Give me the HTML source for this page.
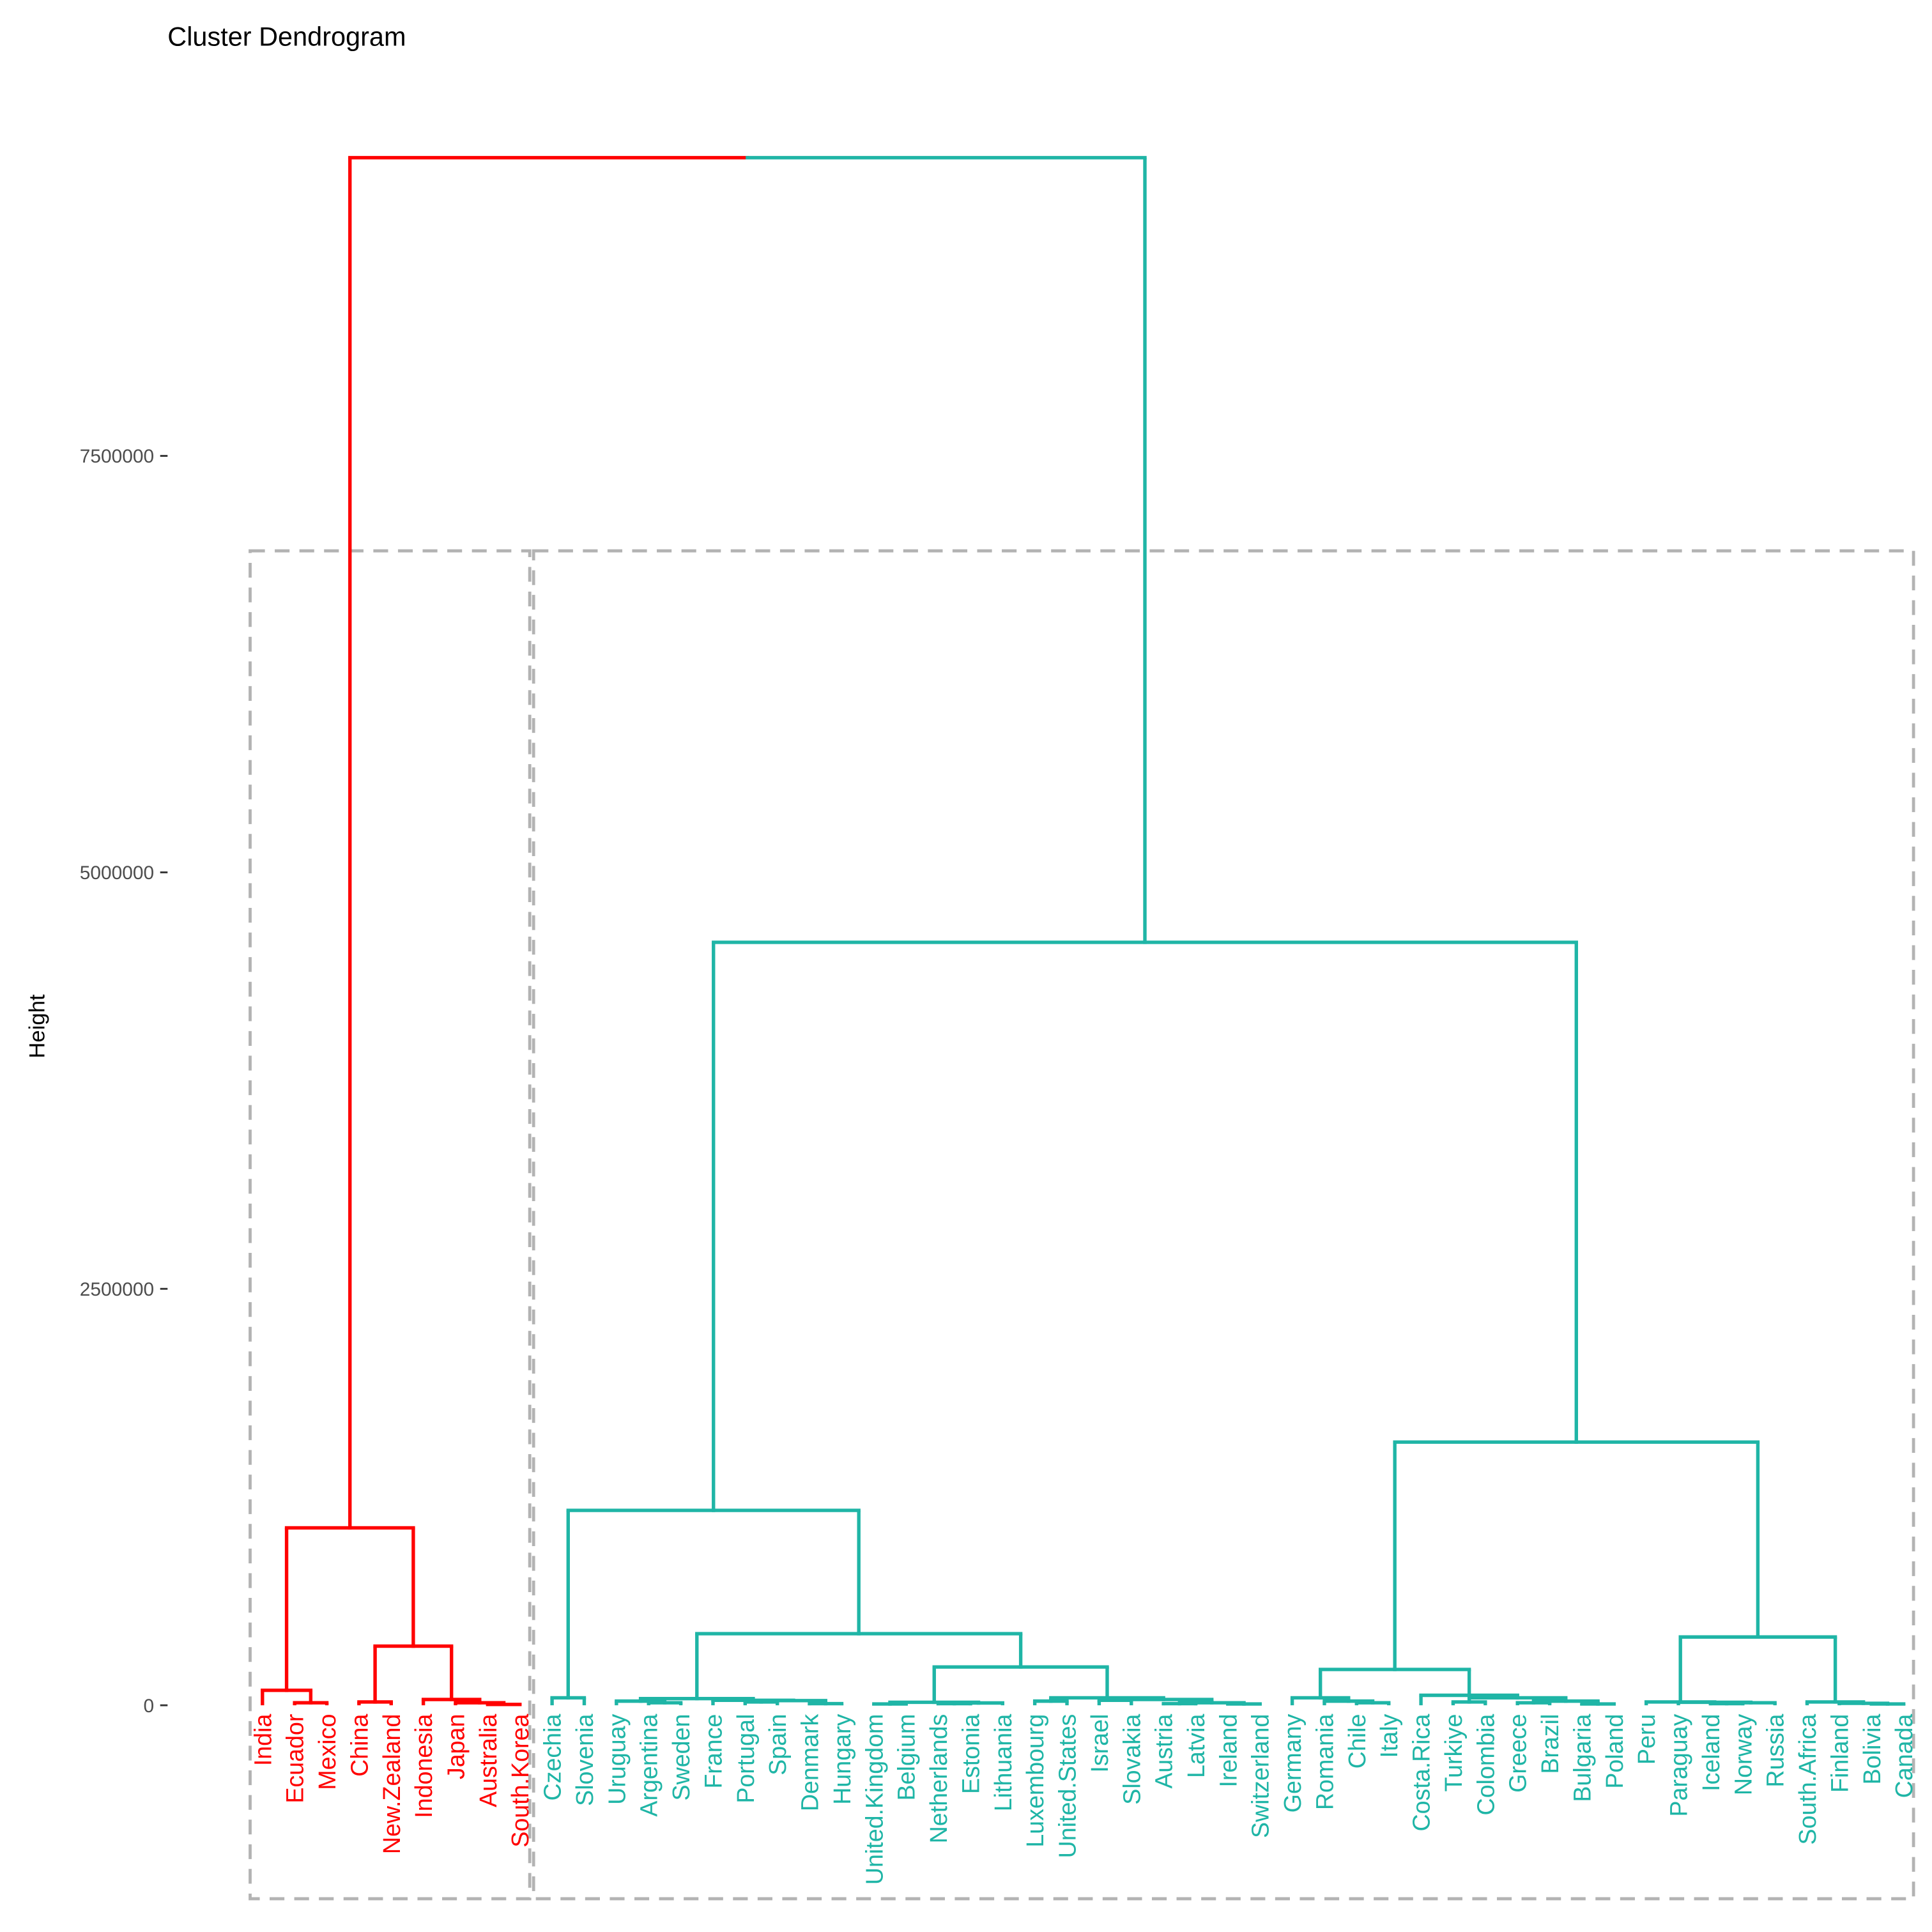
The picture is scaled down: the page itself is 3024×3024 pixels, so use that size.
<!DOCTYPE html>
<html><head><meta charset="utf-8"><style>html,body{margin:0;padding:0;background:#fff}svg{display:block}</style></head>
<body>
<svg id="chart" width="3024" height="3024" viewBox="0 0 1568 1568" xmlns="http://www.w3.org/2000/svg" font-family="Liberation Sans, sans-serif">
<rect width="1568" height="1568" fill="#fff"/>
<text x="136" y="37" font-size="21.5" fill="#000">Cluster Dendrogram</text>
<text transform="translate(36,833) rotate(-90)" text-anchor="middle" font-size="18" fill="#000">Height</text>
<g id="axis"></g>
<g id="boxes"></g>
<g id="tree"></g>
<g id="labels"></g>
</svg>
<script>
const leaves = ["India","Ecuador","Mexico","China","New.Zealand","Indonesia","Japan","Australia","South.Korea","Czechia","Slovenia","Uruguay","Argentina","Sweden","France","Portugal","Spain","Denmark","Hungary","United.Kingdom","Belgium","Netherlands","Estonia","Lithuania","Luxembourg","United.States","Israel","Slovakia","Austria","Latvia","Ireland","Switzerland","Germany","Romania","Chile","Italy","Costa.Rica","Turkiye","Colombia","Greece","Brazil","Bulgaria","Poland","Peru","Paraguay","Iceland","Norway","Russia","South.Africa","Finland","Bolivia","Canada"];
const clusterOf = [1,1,1,1,1,1,1,1,1,2,2,2,2,2,2,2,2,2,2,2,2,2,2,2,2,2,2,2,2,2,2,2,2,2,2,2,2,2,2,2,2,2,2,2,2,2,2,2,2,2,2,2];
const mergeLeft  = [-2,-1,-4,-8,-7,-6,3,2,-10,-13,-12,-16,-18,12,-15,11,-20,-22,18,17,-25,-27,-29,-31,23,22,21,20,16,9,-35,-34,-33,-38,-40,-42,35,34,-37,33,-46,41,-45,-44,-51,-50,-49,44,40,30,8];
const mergeRight = [-3,1,-5,-9,4,5,6,7,-11,-14,10,-17,-19,13,14,15,-21,-23,-24,19,-26,-28,-30,-32,24,25,26,27,28,29,-36,31,32,-39,-41,-43,36,37,38,39,-47,-48,42,43,-52,45,46,47,48,49,50];
const mergeHeight = [15000,90000,20000,5000,15000,35000,355000,1065000,45000,15000,25000,20000,10000,28000,30000,40000,8000,10000,14000,18000,25000,30000,10000,8000,15000,35000,45000,230000,430000,1170000,15000,25000,45000,20000,15000,8000,25000,45000,60000,215000,10000,15000,18000,20000,8000,12000,20000,410000,1580000,4580000,9290000];
const yTicks = [0,2500000,5000000,7500000];
const yTickLabels = ["0","2500000","5000000","7500000"];
const boxTop = 6930000;

const NS="http://www.w3.org/2000/svg";
const colors={1:"#FF0000",2:"#1FB5A6"};
const x0=213, dx=(1545-213)/51;
function xs(i){return x0+i*dx;}
function ys(v){return 1384-v/2500000*338;}
function mk(tag,attrs,parent){const e=document.createElementNS(NS,tag);for(const k in attrs)e.setAttribute(k,attrs[k]);parent.appendChild(e);return e;}

const axis=document.getElementById('axis');
yTicks.forEach((t,i)=>{
  const l=mk('line',{x1:130,x2:136,y1:ys(t),y2:ys(t),stroke:'#333','stroke-width':1.5},axis);
  
  
  const tx=mk('text',{x:125,y:ys(t)+5.5,'text-anchor':'end','font-size':15.5,fill:'#4d4d4d'},axis);
  tx.textContent=yTickLabels[i];
  
  
});

const nodeX=[],nodeH=[],nodeC=[];
function info(r){ if(r<0){const i=-r-1;return {x:xs(i),h:0,c:clusterOf[i]};} const k=r-1;return {x:nodeX[k],h:nodeH[k],c:nodeC[k]}; }
const tree=document.getElementById('tree');
for(let k=0;k<mergeHeight.length;k++){
  const a=info(mergeLeft[k]),b=info(mergeRight[k]);
  const h=mergeHeight[k];
  nodeX[k]=(a.x+b.x)/2; nodeH[k]=h; nodeC[k]=(a.c===b.c)?a.c:0;
  const y=ys(h);
  [a,b].forEach(ch=>{
    const col=colors[ch.c]||'#000';
    const v=mk('line',{x1:ch.x,x2:ch.x,y1:ys(ch.h),y2:y,stroke:col,'stroke-width':2.8},tree);
    
    
    const hz=mk('line',{x1:ch.x,x2:nodeX[k],y1:y,y2:y,stroke:col,'stroke-width':2.8,'stroke-linecap':'square'},tree);
    
    
  });
}

const boxes=document.getElementById('boxes');
[1,2].forEach(c=>{
  let mn=1e9,mx=-1;clusterOf.forEach((v,i)=>{if(v===c){mn=Math.min(mn,i);mx=Math.max(mx,i);}});
  const x1=xs(mn)-(c===2?15:10), x2=xs(mx)+(c===2?8:8);
  const r=mk('rect',{x:x1,y:ys(boxTop),width:x2-x1,height:1541-ys(boxTop),fill:'none',stroke:'#b3b3b3','stroke-width':2.5,'stroke-dasharray':'12,8'},boxes);
  
  
});

const labels=document.getElementById('labels');
leaves.forEach((n,i)=>{
  const x=xs(i)+7,y=1391;
  const t=mk('text',{transform:`translate(${x},${y}) rotate(-90)`,'text-anchor':'end','font-size':19.5,fill:colors[clusterOf[i]]},labels);
  t.textContent=n;
  
  
});
</script>
</body></html>
